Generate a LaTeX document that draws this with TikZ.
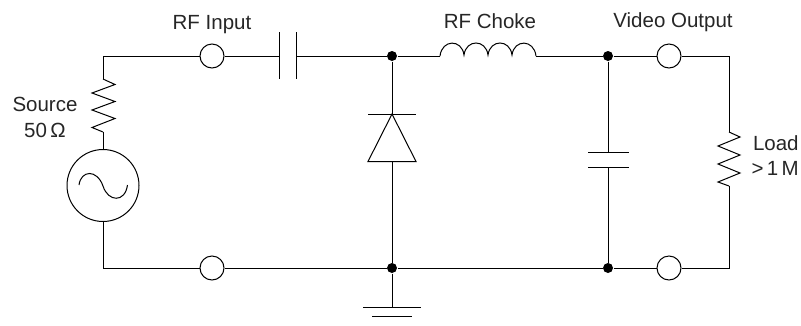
\documentclass[tikz,border=0pt]{standalone}
\usepackage{fontspec}
\setmainfont{Liberation Sans}
\begin{document}
\begin{tikzpicture}[x=1pt,y=-1pt,line width=1pt,
  terminal/.style={circle,draw,fill=white,minimum size=24pt,inner sep=0pt},
  junction/.style={circle,fill=black,minimum size=10pt,inner sep=0pt},
  source/.style={circle,draw,fill=white,minimum size=72pt,inner sep=0pt},
  lbl/.style={font=\fontsize{20.5}{24}\selectfont,text=black!85,inner sep=0pt,anchor=base}]
\useasboundingbox (0,0) rectangle (801,325);
% anchors
\coordinate (tl) at (103,56);
\coordinate (bl) at (103,268);
\coordinate (tr) at (729,56);
\coordinate (br) at (729,268);
\coordinate (r1a) at (103,79);
\coordinate (r1b) at (103,132);
\coordinate (c1a) at (279,56);
\coordinate (c1b) at (296,56);
\coordinate (la) at (440,56);
\coordinate (lb) at (536,56);
\coordinate (r2a) at (729,132);
\coordinate (r2b) at (729,186);
\coordinate (c2a) at (608,152);
\coordinate (c2b) at (608,167);
\coordinate (da) at (392,114);
\coordinate (db) at (392,161.5);
\coordinate (g1) at (392,307);
% nodes
\node[junction] (jt1) at (392,56) {};
\node[junction] (jb1) at (392,268) {};
\node[junction] (jt2) at (608,56) {};
\node[junction] (jb2) at (608,268) {};
\node[terminal] (t1) at (212,56) {};
\node[terminal] (t2) at (212,268) {};
\node[terminal] (t3) at (669,56) {};
\node[terminal] (t4) at (669,268) {};
\node[source] (src) at (103,185.5) {};
% wires
\draw (r1a) -- (tl) -- (t1);
\draw (t1) -- (c1a);
\draw (c1b) -- (jt1) -- (la);
\draw (lb) -- (jt2) -- (t3);
\draw (t3) -- (tr) -- (r2a);
\draw (r2b) -- (br) -- (t4);
\draw (t4) -- (jb2) -- (jb1) -- (t2) -- (bl) -- (src);
\draw (src) -- (r1b);
\draw (jt1) -- (da);
\draw (db) -- (jb1);
\draw (jb1) -- (g1);
\draw (jt2) -- (c2a);
\draw (c2b) -- (jb2);
% capacitors
\draw (279,32) -- (279,79);
\draw (296,32) -- (296,79);
\draw (588,152) -- (629,152);
\draw (588,167) -- (629,167);
% resistors
\draw[line join=miter] (r1a) -- (115,84.5) -- (92,93) -- (115,101.5) -- (92,110) -- (115,118.5) -- (92,127.5) -- (r1b);
\draw[line join=miter] (r2a) -- (740,137) -- (718,146) -- (740,155) -- (718,164) -- (740,173) -- (718,182) -- (r2b);
% inductor
\draw (la) .. controls (442,39) and (462,39) .. (464,55)
      .. controls (466,39) and (486,39) .. (488,55)
      .. controls (490,39) and (510,39) .. (512,55)
      .. controls (514,39) and (534,39) .. (lb);
% diode
\draw (368,114) -- (416,114);
\draw[line join=miter] (da) -- (416,161.5) -- (368,161.5) -- cycle;
% ground
\draw (363,307) -- (421,307);
\draw (372,316) -- (412,316);
% sine
\draw (79,185) .. controls (81,170) and (97,169) .. (103,186)
      .. controls (108,202) and (125,203) .. (127.5,185);
% labels
\node[lbl] (n1) at (212,29) {RF Input};
\node[lbl] (n2) at (490,28) {RF Choke};
\node[lbl] (n3) at (673,27) {Video Output};
\node[lbl] (n4) at (45,111) {Source};
\node[lbl] (n4b) at (45,137) {50\,Ω};
\node[lbl,anchor=base west] (n5) at (752.5,150.5) {Load};
\node[lbl,anchor=base west] (n5b) at (751,175) {>\,1\,M};
\end{tikzpicture}
\end{document}
